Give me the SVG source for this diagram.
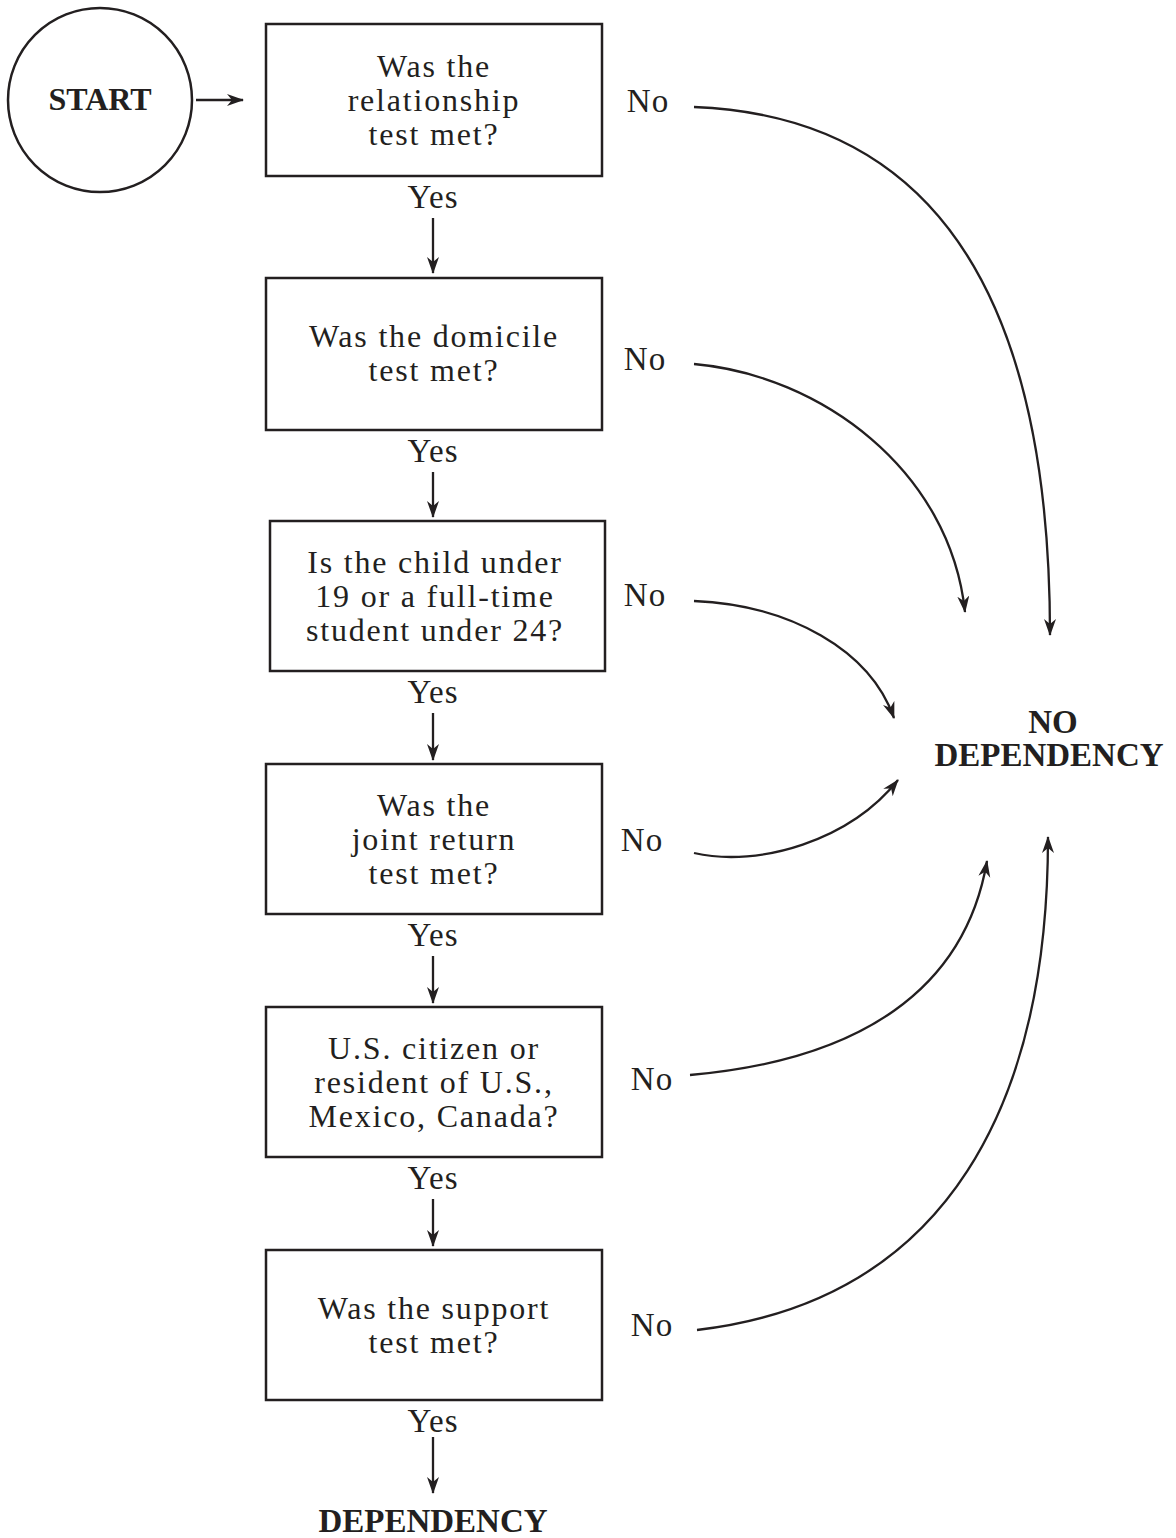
<svg xmlns="http://www.w3.org/2000/svg" width="1176" height="1538" viewBox="0 0 1176 1538">
<style>
  .box { fill: #ffffff; stroke: #231f20; stroke-width: 2.5; }
  .t { font-family: "Liberation Serif", "Times New Roman", serif; font-size: 32px; fill: #231f20; text-anchor: middle; letter-spacing: 1.8px; }
  .lbl { font-family: "Liberation Serif", "Times New Roman", serif; font-size: 33px; fill: #231f20; text-anchor: middle; letter-spacing: 1px; }
  .b { font-family: "Liberation Serif", "Times New Roman", serif; font-size: 33px; font-weight: bold; fill: #231f20; text-anchor: middle; }
  .c { fill: none; stroke: #231f20; stroke-width: 2.3; marker-end: url(#ah); }
</style>
<defs>
  <marker id="ah" markerUnits="userSpaceOnUse" markerWidth="18" markerHeight="14" refX="16" refY="6" orient="auto">
    <path d="M0,0 L17,6 L0,12 L5,6 z" fill="#231f20"/>
  </marker>
</defs>
<rect width="1176" height="1538" fill="#ffffff"/>

<g id="start">
  <circle cx="100" cy="100" r="92" fill="#ffffff" stroke="#231f20" stroke-width="2.5"/>
  <text class="b" x="100" y="110" style="font-size:32px">START</text>
</g>

<g id="q1">
  <rect class="box" x="266" y="24" width="336" height="152"/>
  <text class="t" x="434" y="77">Was the</text>
  <text class="t" x="434" y="111">relationship</text>
  <text class="t" x="434" y="145">test met?</text>
</g>

<g id="q2">
  <rect class="box" x="266" y="278" width="336" height="152"/>
  <text class="t" x="434" y="347">Was the domicile</text>
  <text class="t" x="434" y="381">test met?</text>
</g>

<g id="q3">
  <rect class="box" x="270" y="521" width="335" height="150"/>
  <text class="t" x="435" y="573">Is the child under</text>
  <text class="t" x="435" y="607">19 or a full-time</text>
  <text class="t" x="435" y="641">student under 24?</text>
</g>

<g id="q4">
  <rect class="box" x="266" y="764" width="336" height="150"/>
  <text class="t" x="434" y="816">Was the</text>
  <text class="t" x="434" y="850">joint return</text>
  <text class="t" x="434" y="884">test met?</text>
</g>

<g id="q5">
  <rect class="box" x="266" y="1007" width="336" height="150"/>
  <text class="t" x="434" y="1059">U.S. citizen or</text>
  <text class="t" x="434" y="1093">resident of U.S.,</text>
  <text class="t" x="434" y="1127">Mexico, Canada?</text>
</g>

<g id="q6">
  <rect class="box" x="266" y="1250" width="336" height="150"/>
  <text class="t" x="434" y="1319">Was the support</text>
  <text class="t" x="434" y="1353">test met?</text>
</g>

<g id="no-dependency">
  <text class="b" x="1053" y="733">NO</text>
  <text class="b" x="1049" y="766">DEPENDENCY</text>
</g>

<g id="dependency">
  <text class="b" x="433" y="1532">DEPENDENCY</text>
</g>

<g id="labels">
  <text class="lbl" x="433" y="208">Yes</text>
  <text class="lbl" x="433" y="462">Yes</text>
  <text class="lbl" x="433" y="703">Yes</text>
  <text class="lbl" x="433" y="946">Yes</text>
  <text class="lbl" x="433" y="1189">Yes</text>
  <text class="lbl" x="433" y="1432">Yes</text>
  <text class="lbl" x="648" y="112">No</text>
  <text class="lbl" x="645" y="370">No</text>
  <text class="lbl" x="645" y="606">No</text>
  <text class="lbl" x="642" y="851">No</text>
  <text class="lbl" x="652" y="1090">No</text>
  <text class="lbl" x="652" y="1336">No</text>
</g>

<g id="connectors">
  <path class="c" d="M196,100 L243,100"/>
  <path class="c" d="M433,218 L433,273"/>
  <path class="c" d="M433,472 L433,517"/>
  <path class="c" d="M433,713 L433,760"/>
  <path class="c" d="M433,956 L433,1003"/>
  <path class="c" d="M433,1199 L433,1246"/>
  <path class="c" d="M433,1437 L433,1493"/>
  <path class="c" d="M694,107 C900,115 1050,250 1050,635"/>
  <path class="c" d="M694,364 C820,375 950,470 965,612"/>
  <path class="c" d="M694,601 C790,605 870,650 894,718"/>
  <path class="c" d="M694,853 C760,868 850,840 898,780"/>
  <path class="c" d="M690,1075 C860,1060 965,990 987,861"/>
  <path class="c" d="M697,1330 C950,1300 1048,1100 1048,837"/>
</g>
</svg>
